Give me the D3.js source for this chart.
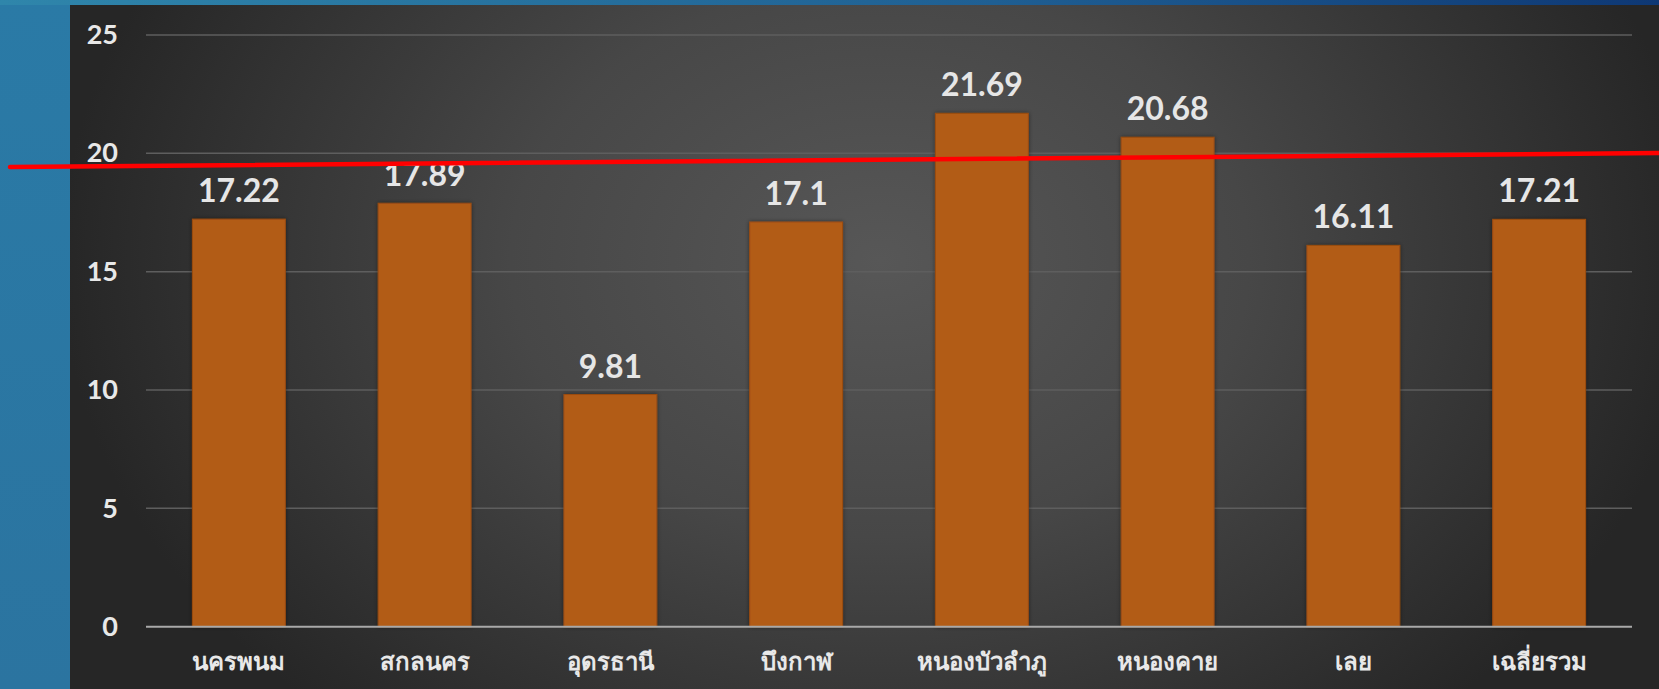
<!DOCTYPE html>
<html>
<head>
<meta charset="utf-8">
<script src="https://cdn.jsdelivr.net/npm/d3@7/dist/d3.min.js"></script>
<style>
  html, body { margin: 0; padding: 0; background: #2b77a3; overflow: hidden; }
  svg { display: block; }
</style>
</head>
<body>
<svg id="chart" width="1659" height="689"></svg>
<script>
// Provinces and their values
const categories = ["นครพนม", "สกลนคร", "อุดรธานี", "บึงกาฬ", "หนองบัวลำภู", "หนองคาย", "เลย", "เฉลี่ยรวม"];
const values = [17.22, 17.89, 9.81, 17.1, 21.69, 20.68, 16.11, 17.21];
const yTicks = [0, 5, 10, 15, 20, 25];
// Hand-drawn reference line, value at its left and right ends
const refLine = [19.42, 20.01];

const W = 1659, H = 689;
const panel = { x: 70, y: 5 };
const margin = { left: 146, right: 1632, top: 35, bottom: 626.7 };

const svg = d3.select("#chart");
const defs = svg.append("defs");

// Top blue strip gradient
const topGrad = defs.append("linearGradient").attr("id", "topGrad")
  .attr("x1", "0%").attr("x2", "100%").attr("y1", "0%").attr("y2", "0%");
topGrad.append("stop").attr("offset", "0%").attr("stop-color", "#2f86ab");
topGrad.append("stop").attr("offset", "60%").attr("stop-color", "#1f5f93");
topGrad.append("stop").attr("offset", "100%").attr("stop-color", "#0e3875");

// Left blue strip
const leftGrad = defs.append("linearGradient").attr("id", "leftGrad")
  .attr("x1", "0%").attr("x2", "0%").attr("y1", "0%").attr("y2", "100%");
leftGrad.append("stop").attr("offset", "0%").attr("stop-color", "#2a7aa6");
leftGrad.append("stop").attr("offset", "100%").attr("stop-color", "#2b74a0");

// Dark panel radial glow
const panelGrad = defs.append("radialGradient").attr("id", "panelGrad")
  .attr("gradientUnits", "userSpaceOnUse")
  .attr("cx", 880).attr("cy", 260).attr("r", 820)
  .attr("gradientTransform", "translate(880,260) scale(1,0.75) translate(-880,-260)");
panelGrad.append("stop").attr("offset", "0%").attr("stop-color", "#575757");
panelGrad.append("stop").attr("offset", "45%").attr("stop-color", "#474747");
panelGrad.append("stop").attr("offset", "100%").attr("stop-color", "#262626");

// Bar shadow
const shadow = defs.append("filter").attr("id", "barShadow")
  .attr("x", "-10%").attr("y", "-10%").attr("width", "120%").attr("height", "120%");
shadow.append("feDropShadow").attr("dx", 0).attr("dy", 0).attr("stdDeviation", 2)
  .attr("flood-color", "#000").attr("flood-opacity", 0.45);

svg.append("rect").attr("x", 0).attr("y", 0).attr("width", W).attr("height", H).attr("fill", "url(#leftGrad)");
svg.append("rect").attr("x", 0).attr("y", 0).attr("width", W).attr("height", panel.y).attr("fill", "url(#topGrad)");
svg.append("rect").attr("x", panel.x).attr("y", panel.y).attr("width", W - panel.x).attr("height", H - panel.y)
  .attr("fill", "url(#panelGrad)");

// Scales
const x = d3.scaleBand().domain(categories).range([margin.left, margin.right])
  .paddingInner(0.5).paddingOuter(0.25);
const y = d3.scaleLinear().domain([0, 25]).range([margin.bottom, margin.top]);

const numFont = "'Lato', 'Noto Sans', sans-serif";
const thaiFont = "'Noto Sans', 'Lato', 'DejaVu Sans', sans-serif";

// Gridlines
svg.append("g")
  .selectAll("line").data(yTicks.filter(d => d > 0)).join("line")
  .attr("x1", margin.left).attr("x2", margin.right)
  .attr("y1", d => y(d)).attr("y2", d => y(d))
  .attr("stroke", "#5e5e5e").attr("stroke-width", 1.5);

// Y axis labels
const yAxis = d3.axisLeft(y).tickValues(yTicks).tickSize(0).tickPadding(28);
svg.append("g").attr("transform", `translate(${margin.left},0)`).call(yAxis)
  .call(g => g.select(".domain").remove())
  .selectAll("text")
  .attr("fill", "#e8e8e8").attr("font-size", 27).attr("font-weight", 700)
  .attr("font-family", numFont);

// Bars
svg.append("g").selectAll("rect").data(values).join("rect")
  .attr("x", (d, i) => x(categories[i]))
  .attr("y", d => y(d))
  .attr("width", x.bandwidth())
  .attr("height", d => y(0) - y(d))
  .attr("fill", "#b25b19")
  .attr("stroke", "#9c4c12").attr("stroke-width", 1)
  .attr("filter", "url(#barShadow)");

// Baseline
svg.append("line")
  .attr("x1", margin.left).attr("x2", margin.right)
  .attr("y1", y(0)).attr("y2", y(0))
  .attr("stroke", "#a9a9a9").attr("stroke-width", 2);

// Value labels
svg.append("g").selectAll("text").data(values).join("text")
  .attr("x", (d, i) => x(categories[i]) + x.bandwidth() / 2)
  .attr("y", d => y(d) - 17)
  .attr("text-anchor", "middle")
  .attr("fill", "#e6e6e6").attr("font-size", 32).attr("font-weight", 700)
  .attr("font-family", numFont)
  .text(d => d);

// X axis labels
const xAxis = d3.axisBottom(x).tickSize(0).tickPadding(26);
svg.append("g").attr("transform", `translate(0,${margin.bottom})`).call(xAxis)
  .call(g => g.select(".domain").remove())
  .selectAll("text")
  .attr("fill", "#e8e8e8").attr("font-size", 24).attr("font-weight", 700)
  .attr("font-family", thaiFont);

// Red reference line across the whole view
svg.append("line")
  .attr("x1", 10).attr("x2", W + 2)
  .attr("y1", y(refLine[0])).attr("y2", y(refLine[1]))
  .attr("stroke", "#ff0000").attr("stroke-width", 4.5).attr("stroke-linecap", "round");
</script>
</body>
</html>
